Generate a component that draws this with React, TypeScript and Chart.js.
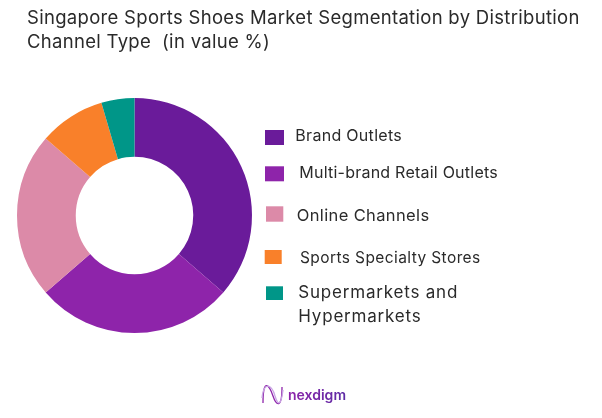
import React, { useEffect, useRef } from "react";
import { Chart, registerables } from "chart.js";

Chart.register(...registerables);

const categories = [
  "Brand Outlets",
  "Multi-brand Retail Outlets",
  "Online Channels",
  "Sports Specialty Stores",
  "Supermarkets and Hypermarkets",
];
const shareValues = [40, 30, 25, 10, 5];
const sliceColors = ["#6A1B9A", "#8E24AA", "#DC8AA8", "#F9802A", "#009688"];
const titleLines = [
  "Singapore Sports Shoes Market Segmentation by Distribution",
  "Channel Type  (in value %)",
];
const brandName = "nexdigm";

const FONT = 'Inter, "Open Sans", sans-serif';
const INK = "#2a2a2a";

const legendLayout = [
  { box: [265, 130, 19, 15], tx: 295.3, ty: [136], size: 16, sp: "0.3px" },
  { box: [265, 166.3, 19, 15], tx: 299.3, ty: [172.7], size: 16, sp: "0.23px" },
  { box: [266, 206.3, 17.3, 15.4], tx: 296.7, ty: [215.7], size: 16.5, sp: "0.37px" },
  { box: [264.7, 250, 17, 14], tx: 300, ty: [258.3], size: 15.5, sp: "0.4px" },
  { box: [266, 286.3, 17, 13.7], tx: 298.3, ty: [293.3, 316.7], size: 17, sp: "0.8px" },
];

function wrapLabel(label: string, lineCount: number): string[] {
  if (lineCount === 1) return [label];
  const at = label.lastIndexOf(" ");
  return [label.slice(0, at), label.slice(at + 1)];
}

const annotations = {
  id: "annotations",
  afterDraw(chart: Chart) {
    const ctx = chart.ctx as CanvasRenderingContext2D & { letterSpacing: string };
    ctx.save();
    ctx.textBaseline = "middle";
    ctx.textAlign = "left";

    // Title
    ctx.fillStyle = INK;
    ctx.font = `400 18.5px ${FONT}`;
    ctx.letterSpacing = "0.3px";
    ctx.fillText(titleLines[0], 27, 18.5);
    ctx.fillText(titleLines[1], 27, 42.5);

    // Legend
    legendLayout.forEach((item, i) => {
      const [x, y, w, h] = item.box;
      ctx.fillStyle = sliceColors[i];
      ctx.fillRect(x, y, w, h);
      ctx.fillStyle = INK;
      ctx.font = `400 ${item.size}px ${FONT}`;
      ctx.letterSpacing = item.sp;
      wrapLabel(categories[i], item.ty.length).forEach((line, j) => {
        ctx.fillText(line, item.tx, item.ty[j]);
      });
    });

    // Brand mark
    ctx.letterSpacing = "0px";
    ctx.lineWidth = 1.3;
    ctx.strokeStyle = "#8E24AA";
    ctx.beginPath();
    ctx.moveTo(263, 403);
    ctx.bezierCurveTo(263, 375, 270, 387, 273, 396);
    ctx.bezierCurveTo(276, 405, 282, 410, 282, 387);
    ctx.stroke();
    ctx.strokeStyle = "#C9A6E4";
    ctx.beginPath();
    ctx.moveTo(262, 398);
    ctx.bezierCurveTo(264, 380, 272, 385, 275, 396);
    ctx.bezierCurveTo(278, 406, 281, 406, 283, 390);
    ctx.stroke();

    const grad = ctx.createLinearGradient(288, 0, 345, 0);
    grad.addColorStop(0, "#8E24AA");
    grad.addColorStop(1, "#5E2CA5");
    ctx.fillStyle = grad;
    ctx.font = `600 14px ${FONT}`;
    ctx.fillText(brandName, 288, 396);
    ctx.restore();
  },
};

export default function App() {
  const ref = useRef<HTMLCanvasElement>(null);
  useEffect(() => {
    const chart = new Chart(ref.current!, {
      type: "doughnut",
      data: {
        labels: categories,
        datasets: [
          {
            data: shareValues,
            backgroundColor: sliceColors,
            borderWidth: 0,
          },
        ],
      },
      options: {
        responsive: false,
        animation: false,
        cutout: "50%",
        layout: { padding: { left: 17, right: 350, top: 98, bottom: 85 } },
        plugins: {
          legend: { display: false },
          title: { display: false },
          tooltip: { enabled: false },
        },
      },
      plugins: [annotations],
    });
    return () => chart.destroy();
  }, []);
  return (
    <div style={{ position: "absolute", left: 0, top: 0, width: 602, height: 418, background: "#fff" }}>
      <canvas ref={ref} width={602} height={418} style={{ display: "block" }} />
    </div>
  );
}
